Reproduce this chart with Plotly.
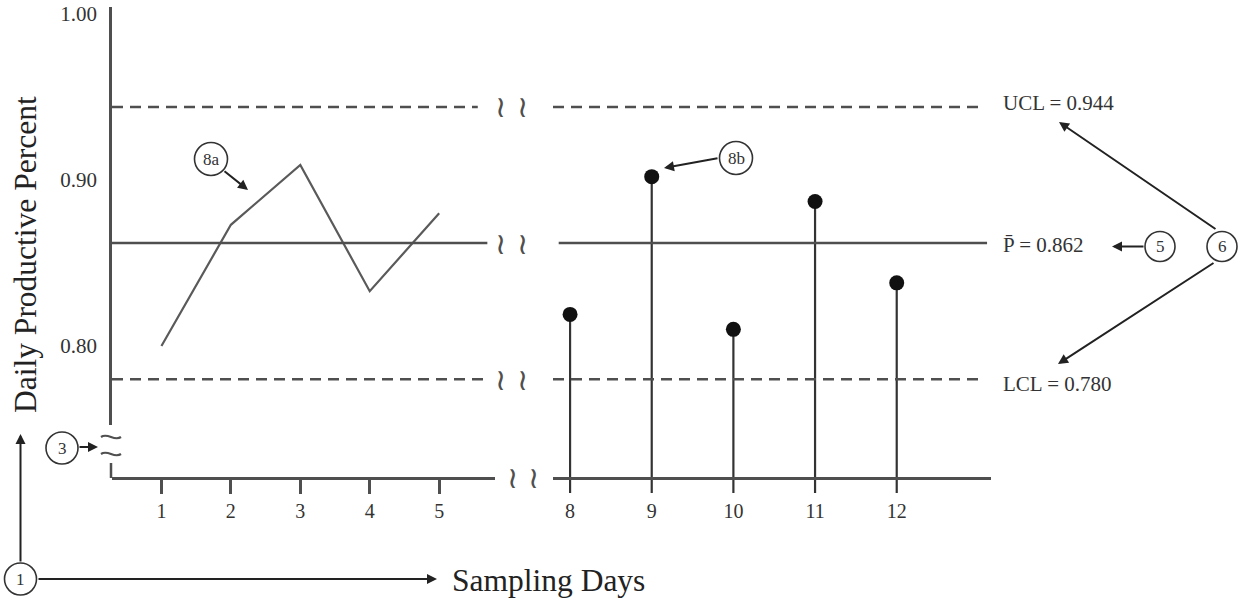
import plotly.graph_objects as go

W, H = 1241, 602

# Sampling days and daily productive proportions
days_first = [1, 2, 3, 4, 5]
prop_first = [0.800, 0.873, 0.909, 0.833, 0.880]
days_second = [8, 9, 10, 11, 12]
prop_second = [0.819, 0.902, 0.810, 0.887, 0.838]

# Control limits
UCL = 0.944
P_BAR = 0.862
LCL = 0.780

y_ticks = [0.80, 0.90, 1.00]

# Axis windows (value ranges)
Y_TOP = 1.0042
Y_AXIS_BOTTOM = 0.7524
Y_STEM_BOTTOM = 0.7114
X1_RANGE = [0.288, 5.804]
X2_RANGE = [7.791, 13.1545]

SERIF = "Liberation Serif"
INK = "#333333"
LINE = "#4f4f4f"


def px(x, y):
    """Pixel position -> paper coordinates."""
    return x / W, 1 - y / H


def label(x, y, text, size, family=SERIF, color=INK, **kw):
    """Centered text annotation at a paper position."""
    d = dict(xref="paper", yref="paper", x=x, y=y, text=text, showarrow=False,
             xanchor="center", yanchor="middle",
             font=dict(family=family, size=size, color=color))
    d.update(kw)
    return d


def tilde_path(x0, y0, width, amp):
    """Small horizontal wave (axis-break mark) as an SVG path in paper units."""
    pts = [px(x0, y0), px(x0 + width * 0.35, y0 - amp),
           px(x0 + width * 0.65, y0 + amp), px(x0 + width, y0)]
    (a, b), (c, d), (e, f), (g, h) = pts
    return f"M {a},{b} C {c},{d} {e},{f} {g},{h}"


fig = go.Figure()

# Days 1-5: line chart
fig.add_trace(go.Scatter(
    x=days_first, y=prop_first, mode="lines",
    line=dict(color="#5a5a5a", width=2.2),
    xaxis="x", yaxis="y", hoverinfo="x+y", showlegend=False,
))

# Days 8-12: lollipops (stem drawn down to the axis floor)
fig.add_trace(go.Scatter(
    x=days_second, y=prop_second, mode="markers",
    marker=dict(color="#111111", size=15),
    error_y=dict(type="data", symmetric=False,
                 array=[0] * len(prop_second),
                 arrayminus=[v - Y_STEM_BOTTOM for v in prop_second],
                 width=0, thickness=2.2, color="#333333"),
    xaxis="x2", yaxis="y2", hoverinfo="x+y", showlegend=False,
))

base_pos = 1 - 478 / H
tick_font = dict(family=SERIF, size=20, color=INK)

fig.update_layout(
    width=W, height=H,
    margin=dict(l=0, r=0, t=0, b=0, autoexpand=False),
    paper_bgcolor="white", plot_bgcolor="white",
    xaxis=dict(domain=[112 / W, 495 / W], range=X1_RANGE, automargin=False,
               anchor="free", position=base_pos,
               showline=True, linecolor=LINE, linewidth=2.5,
               ticks="outside", ticklen=14, tickwidth=2.5, tickcolor=LINE,
               tickmode="array", tickvals=days_first,
               tickfont=tick_font, showgrid=False, zeroline=False),
    xaxis3=dict(overlaying="x", range=X1_RANGE, automargin=False,
                anchor="free", position=base_pos,
                showline=False, ticks="inside", ticklen=15, tickwidth=2.5,
                tickcolor=LINE, tickmode="array", tickvals=days_first,
                showticklabels=False, showgrid=False, zeroline=False),
    xaxis2=dict(domain=[553 / W, 991 / W], range=X2_RANGE, automargin=False,
                anchor="free", position=base_pos,
                showline=True, linecolor=LINE, linewidth=2.5,
                ticks="outside", ticklen=14, tickcolor="rgba(0,0,0,0)",
                tickmode="array", tickvals=days_second,
                tickfont=tick_font, showgrid=False, zeroline=False),
    yaxis=dict(domain=[1 - 425 / H, 1 - 7 / H], range=[Y_AXIS_BOTTOM, Y_TOP],
               automargin=False,
               anchor="x", showline=True, linecolor=LINE, linewidth=2.5,
               ticks="", tickmode="array", tickvals=y_ticks, tickformat=".2f",
               ticklabelstandoff=8, ticklabeloverflow="allow",
               tickfont=dict(family=SERIF, size=21, color=INK),
               showgrid=False, zeroline=False),
    yaxis2=dict(domain=[1 - 493 / H, 1 - 7 / H], range=[Y_STEM_BOTTOM, Y_TOP],
                automargin=False, anchor="x2", visible=False),
)

shapes = []
# Control-limit lines, left and right panels
for ref_x, yref, spans in (
    ("x domain", "y", {UCL: (0, 0.955), P_BAR: (0, 0.98), LCL: (0, 0.975)}),
    ("x2 domain", "y2", {UCL: (0, 0.975), P_BAR: (0.013, 0.991), LCL: (0, 0.986)}),
):
    for val, (a, b) in spans.items():
        dashed = val != P_BAR
        shapes.append(dict(
            type="line", xref=ref_x, yref=yref, x0=a, x1=b, y0=val, y1=val,
            line=dict(color=LINE, width=2.5, dash="11px,7px" if dashed else "solid"),
        ))

# Short axis stub below the y-axis break
shapes.append(dict(type="line", xref="paper", yref="paper",
                   x0=111 / W, x1=111 / W, y0=1 - 463 / H, y1=1 - 478 / H,
                   line=dict(color=LINE, width=2.5)))
# Break mark on the y axis: two stacked waves
for sy in (437, 454):
    shapes.append(dict(type="path", xref="paper", yref="paper",
                       path=tilde_path(101, sy, 20, 5),
                       line=dict(color=LINE, width=2.2)))

annotations = []

# Circled callout numbers
callouts = [("1", 20.5, 579, 16), ("3", 62, 448, 16), ("8a", 211, 159, 16.5),
            ("8b", 736, 158, 16.5), ("5", 1160, 246.5, 15), ("6", 1222, 246.5, 15)]
for text, cx, cy, r in callouts:
    ax_, ay_ = px(cx, cy)
    shapes.append(dict(type="circle", xref="paper", yref="paper",
                       xsizemode="pixel", ysizemode="pixel",
                       xanchor=ax_, yanchor=ay_, x0=-r, x1=r, y0=-r, y1=r,
                       line=dict(color=INK, width=1.6), fillcolor="white"))
    annotations.append(label(ax_, ay_, text, 17))

# Arrows: (head_x, head_y, tail_x, tail_y)
arrows = [
    (20.5, 434, 20.5, 563),
    (437, 579, 37, 579),
    (98, 447, 78, 447),
    (248, 190, 223, 170),
    (664, 168, 719, 158),
    (1112, 246.5, 1145, 246.5),
    (1059, 122, 1217, 230),
    (1058, 364, 1215, 262),
]
for hx, hy, tx, ty in arrows:
    x, y = px(hx, hy)
    annotations.append(dict(xref="paper", yref="paper", x=x, y=y,
                            ax=tx - hx, ay=ty - hy, axref="pixel", ayref="pixel",
                            text="", showarrow=True, arrowhead=2, arrowsize=1,
                            arrowwidth=2, arrowcolor="#222222", standoff=0,
                            startstandoff=0))

# Axis-break squiggles on each horizontal line
for val in (UCL, P_BAR, LCL):
    for sx in (500, 522):
        annotations.append(label(sx / W, val, "≀", 30, family="DejaVu Sans",
                                 color=LINE, yref="y"))
for sx in (512, 533):
    x, y = px(sx, 477)
    annotations.append(label(x, y, "≀", 30, family="DejaVu Sans", color=LINE))

# Control-limit labels
for text, yy in (("UCL = 0.944", 103), ("P\u0304 = 0.862", 245), ("LCL = 0.780", 384)):
    x, y = px(1001, yy)
    annotations.append(label(x, y, text, 21, xanchor="left"))

# Axis titles
x, y = px(25, 255)
annotations.append(label(x, y, "Daily Productive Percent", 31.5,
                         color="#222222", textangle=-90))
x, y = px(450, 580)
annotations.append(label(x, y, "Sampling Days", 31.5, color="#222222",
                         xanchor="left"))

fig.update_layout(shapes=shapes, annotations=annotations)

fig.write_html("out.html")
